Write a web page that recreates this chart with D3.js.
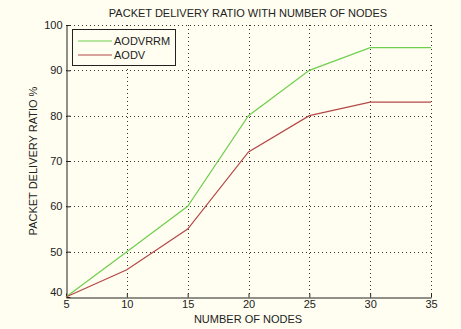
<!DOCTYPE html>
<html><head><meta charset="utf-8">
<script src="https://cdn.jsdelivr.net/npm/d3@7"></script>
<style>
html,body{margin:0;padding:0;background:#fffef0;}
svg{display:block;font-family:"Liberation Sans",Arial,sans-serif;}
</style></head>
<body>
<script>
const nodes = [5, 10, 15, 20, 25, 30, 35];
const aodvrrm = [40, 50, 60, 80, 90, 95, 95];
const aodv = [40, 46, 55, 72, 80, 83, 83];
const xTicks = [5, 10, 15, 20, 25, 30, 35];
const yTicks = [40, 50, 60, 70, 80, 90, 100];
const seriesNames = ["AODVRRM", "AODV"];
const seriesColors = ["#6fcf4f", "#b44848"];

const W = 461, H = 329;
const m = {left: 66, right: 30, top: 25, bottom: 32};
const FS = "11px";
const svg = d3.select("body").append("svg").attr("width", W).attr("height", H);
svg.append("rect").attr("width", W).attr("height", H).attr("fill", "#fffef0");

const x = d3.scaleLinear().domain([5, 35]).range([m.left, W - m.right]);
const y = d3.scaleLinear().domain([40, 100]).range([H - m.bottom, m.top]);

// dotted grid
const grid = svg.append("g").attr("stroke", "#333").attr("stroke-width", 1).attr("stroke-dasharray", "1,3");
grid.selectAll(".gx").data(xTicks.slice(1)).join("line")
  .attr("x1", d => Math.round(x(d)) + 0.5).attr("x2", d => Math.round(x(d)) + 0.5)
  .attr("y1", y(100)).attr("y2", y(40));
grid.selectAll(".gy").data(yTicks.slice(1)).join("line")
  .attr("y1", d => Math.round(y(d)) + 0.5).attr("y2", d => Math.round(y(d)) + 0.5)
  .attr("x1", x(5)).attr("x2", x(35));

// axes
const xAxis = svg.append("g").attr("transform", `translate(0,${Math.round(y(40)) + 0.5})`)
  .call(d3.axisBottom(x).tickValues(xTicks).tickSizeInner(-4).tickSizeOuter(0).tickPadding(3));
const yAxis = svg.append("g").attr("transform", `translate(${Math.round(x(5)) + 0.5},0)`)
  .call(d3.axisLeft(y).tickValues(yTicks).tickSizeInner(-4).tickSizeOuter(0).tickPadding(4));
[xAxis, yAxis].forEach(a => {
  a.select(".domain").attr("stroke", "#222");
  a.selectAll(".tick line").attr("stroke", "#222");
  a.selectAll("text").attr("fill", "#222").style("font-size", FS).style("font-family", "Liberation Sans, Arial, sans-serif");
});
xAxis.selectAll(".tick text").attr("y", 3).attr("dy", "0.71em");
yAxis.selectAll(".tick").filter(d => d === 40).select("text").attr("dy", "-0.1em");

// lines
const line = d3.line().x((d, i) => x(nodes[i])).y(d => y(d));
[aodvrrm, aodv].forEach((s, k) => {
  svg.append("path").datum(s).attr("d", line).attr("fill", "none")
    .attr("stroke", seriesColors[k]).attr("stroke-width", 1.2);
});

// legend
const lg = svg.append("g");
lg.append("rect").attr("x", 72.5).attr("y", 29.5).attr("width", 103).attr("height", 36)
  .attr("fill", "#fffef0").attr("stroke", "#222");
seriesNames.forEach((n, k) => {
  const yy = 41 + k * 14;
  lg.append("line").attr("x1", 78).attr("x2", 112).attr("y1", yy).attr("y2", yy)
    .attr("stroke", seriesColors[k]).attr("stroke-width", 1.2);
  lg.append("text").attr("x", 114).attr("y", yy + 4).text(n)
    .attr("fill", "#222").style("font-size", FS);
});

// titles
svg.append("text").attr("x", 248).attr("y", 17).attr("text-anchor", "middle")
  .attr("fill", "#222").style("font-size", FS).text("PACKET DELIVERY RATIO WITH NUMBER OF NODES");
svg.append("text").attr("x", 248).attr("y", 323).attr("text-anchor", "middle")
  .attr("fill", "#222").style("font-size", FS).text("NUMBER OF NODES");
svg.append("text").attr("transform", `translate(37,${(y(40) + y(100)) / 2}) rotate(-90)`)
  .attr("text-anchor", "middle").attr("fill", "#222").style("font-size", FS).text("PACKET DELIVERY RATIO %");
</script>
</body></html>
